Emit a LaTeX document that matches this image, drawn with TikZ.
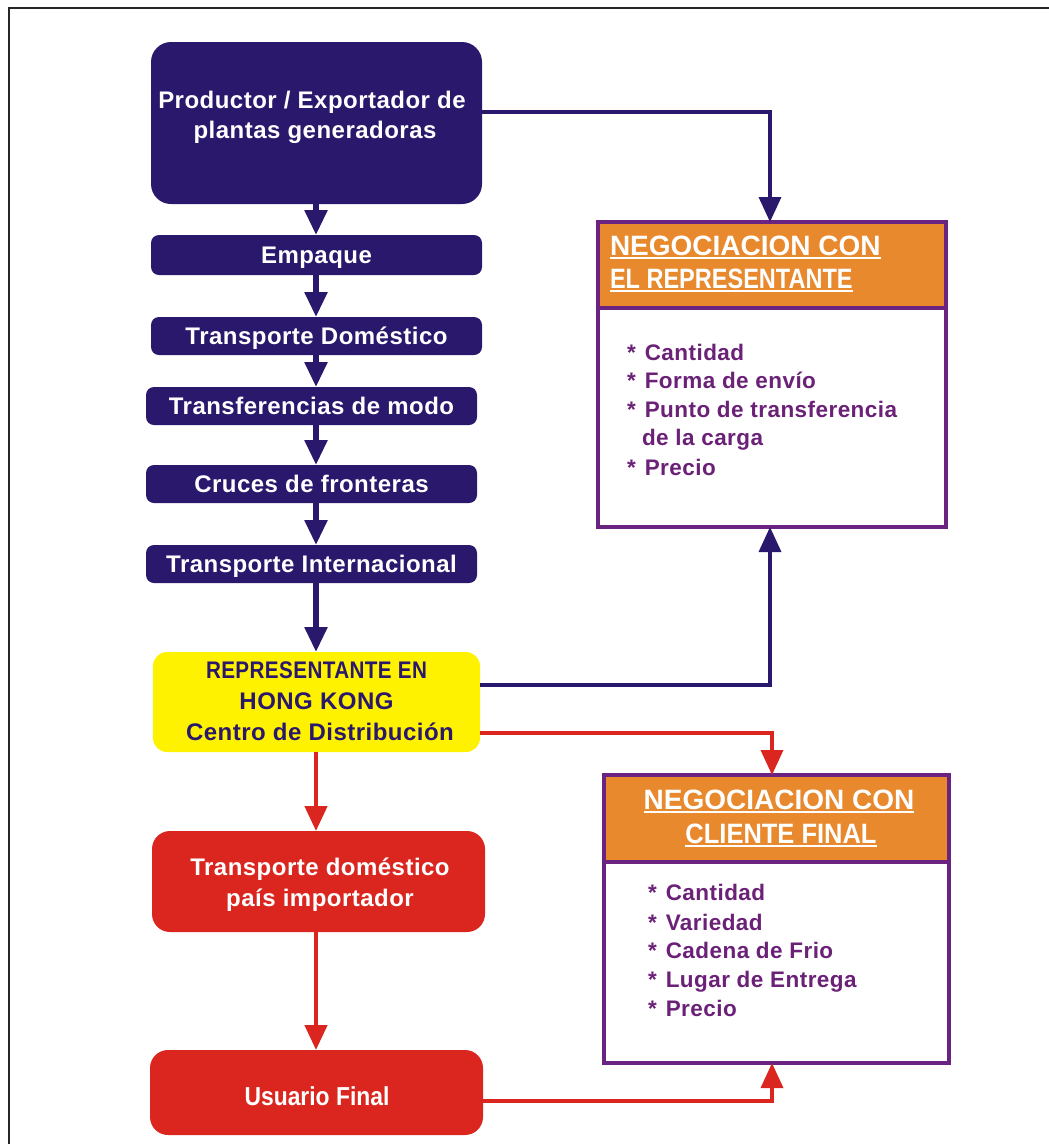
\documentclass[tikz,border=0pt]{standalone}
\usepackage{fontspec}
\setmainfont{Liberation Sans}
\usepackage{graphicx}
\usetikzlibrary{arrows.meta}

% white rule under heading text
\newcommand{\hdrul}[1]{\setbox0\hbox{#1}\rlap{\rule[-4pt]{\wd0}{2pt}}\box0}

\definecolor{cNavy}{RGB}{42,24,108}
\definecolor{cYellow}{RGB}{255,242,0}
\definecolor{cRed}{RGB}{218,38,30}
\definecolor{cOrange}{RGB}{232,137,45}
\definecolor{cPurple}{RGB}{106,35,128}
\definecolor{cBullet}{RGB}{107,33,119}

\begin{document}
\begin{tikzpicture}[x=1pt,y=-1pt,
  every node/.style={inner sep=0pt,outer sep=0pt},
  bigfont/.style={font=\bfseries\fontsize{24}{28}\selectfont\addfontfeature{LetterSpace=2}},
  navybig/.style={fill=cNavy,rounded corners=20pt,minimum width=331pt,minimum height=162pt},
  navybox/.style={bigfont,fill=cNavy,text=white,rounded corners=8pt,
    minimum width=331pt,minimum height=38pt,text height=17pt,text depth=0pt},
  repbox/.style={fill=cYellow,rounded corners=14pt,minimum width=327pt,minimum height=100pt},
  redbox/.style={fill=cRed,rounded corners=18pt,minimum width=333pt,minimum height=101pt},
  whitetxt/.style={bigfont,text=white,anchor=base},
  navytxt/.style={bigfont,text=cNavy,anchor=base},
  negbox/.style={draw=cPurple,line width=3.5pt,fill=white},
  neghead/.style={draw=cPurple,line width=3.5pt,fill=cOrange,anchor=north},
  hdrtxt/.style={font=\bfseries\fontsize{28}{32}\selectfont,text=white},
  bul/.style={font=\bfseries\fontsize{22.5}{28}\selectfont\addfontfeature{LetterSpace=2},text=cBullet,anchor=base west},
  navarrow/.style={draw=cNavy,line width=5.5pt,-{Triangle[width=22pt,length=25pt]}},
  redarrow/.style={draw=cRed,line width=4.5pt,-{Triangle[width=22pt,length=25pt]}},
  navside/.style={draw=cNavy,line width=3.5pt,-{Triangle[width=22pt,length=25pt]}},
  redside/.style={draw=cRed,line width=3.5pt,-{Triangle[width=22pt,length=25pt]}},
]
\useasboundingbox (0,0) rectangle (1049,1144);

% page frame
\draw[line width=2.2pt,black!85] (9,1144) -- (9,8) -- (1049,8);

% exporter side chain
\node[navybig] (prod) at (316.5,123) {};
\node[whitetxt] (prodA) at (312,108) {Productor / Exportador de};
\node[whitetxt] (prodB) at (315,138) {plantas generadoras};

\node[navybox,minimum height=40pt] (emp) at (316.5,255) {Empaque};
\node[navybox] (tdom) at (316.5,336) {Transporte Doméstico};
\node[navybox] (tmod) at (311.5,406) {Transferencias de modo};
\node[navybox] (cruc) at (311.5,484) {Cruces de fronteras};
\node[navybox] (tint) at (311.5,564) {Transporte Internacional};

% representative in Hong Kong
\node[repbox] (rep) at (316.5,702) {};
\node[navytxt] (repA) at (316.5,678) {\scalebox{0.86}[1]{REPRESENTANTE EN}};
\node[navytxt] (repB) at (316.5,709) {HONG KONG};
\node[navytxt] (repC) at (320,740) {Centro de Distribución};

% importer side
\node[redbox] (timp) at (318.5,881.5) {};
\node[whitetxt] (timpA) at (320,875) {Transporte doméstico};
\node[whitetxt] (timpB) at (320,906) {país importador};

\node[redbox,minimum height=85pt] (usu) at (316.5,1092.5) {};
\node[whitetxt,font=\bfseries\fontsize{26}{30}\selectfont] (usuA) at (317,1105) {\scalebox{0.88}[1]{Usuario Final}};

% negotiation with the representative
\node[negbox,minimum width=348pt,minimum height=305pt] (neg1) at (772,374.5) {};
\node[neghead,minimum width=348pt,minimum height=86pt] (neg1h) at (neg1.north) {};
\node[hdrtxt,anchor=base west] (neg1t1) at (610,255) {\hdrul{NEGOCIACION CON}};
\node[hdrtxt,anchor=base west] (neg1t2) at (610,288) {\scalebox{0.84}[1]{\hdrul{EL REPRESENTANTE}}};
\node[bul] (n1a) at (627,360) {*\hspace{9pt}Cantidad};
\node[bul] (n1b) at (627,388) {*\hspace{9pt}Forma de envío};
\node[bul] (n1c) at (627,417) {*\hspace{9pt}Punto de transferencia};
\node[bul] (n1d) at (642,445) {de la carga};
\node[bul] (n1e) at (627,475) {*\hspace{9pt}Precio};

% negotiation with the final client
\node[negbox,minimum width=345pt,minimum height=288pt] (neg2) at (776.5,919) {};
\node[neghead,minimum width=345pt,minimum height=87pt] (neg2h) at (neg2.north) {};
\node[hdrtxt,anchor=base] (neg2t1) at (779,809) {\hdrul{NEGOCIACION CON}};
\node[hdrtxt,anchor=base] (neg2t2) at (781,843) {\scalebox{0.91}[1]{\hdrul{CLIENTE FINAL}}};
\node[bul] (n2a) at (648,900) {*\hspace{9pt}Cantidad};
\node[bul] (n2b) at (648,930) {*\hspace{9pt}Variedad};
\node[bul] (n2c) at (648,958) {*\hspace{9pt}Cadena de Frio};
\node[bul] (n2d) at (648,987) {*\hspace{9pt}Lugar de Entrega};
\node[bul] (n2e) at (648,1016) {*\hspace{9pt}Precio};

% main flow
\coordinate (spine) at (316,0);
\draw[navarrow] (prod.south -| spine) -- (emp.north -| spine);
\draw[navarrow] (emp.south -| spine) -- (tdom.north -| spine);
\draw[navarrow] (tdom.south -| spine) -- (tmod.north -| spine);
\draw[navarrow] (tmod.south -| spine) -- (cruc.north -| spine);
\draw[navarrow] (cruc.south -| spine) -- (tint.north -| spine);
\draw[navarrow] (tint.south -| spine) -- (rep.north -| spine);
\draw[redarrow] (rep.south -| spine) -- (timp.north -| spine);
\draw[redarrow] (timp.south -| spine) -- (usu.north -| spine);

% links to the negotiation boxes
\draw[navside] ([yshift=11pt]prod.east) -| ([xshift=-2pt]neg1.north);
\draw[navside] ([yshift=17pt]rep.east) -| ([xshift=-2pt]neg1.south);
\draw[redside] ([yshift=-31pt]rep.east) -| ([xshift=-4.5pt]neg2.north);
\draw[redside] ([yshift=-8.5pt]usu.east) -| ([xshift=-4.5pt]neg2.south);
\end{tikzpicture}
\end{document}
